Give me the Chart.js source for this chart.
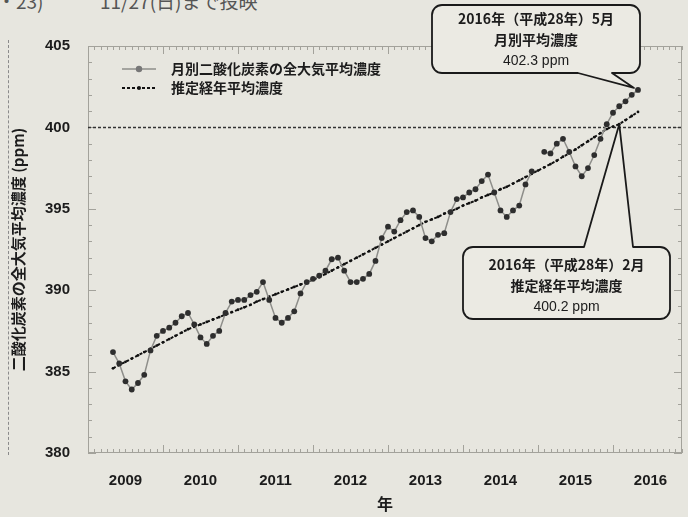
<!DOCTYPE html>
<html lang="ja">
<head>
<meta charset="utf-8">
<title>二酸化炭素の全大気平均濃度</title>
<script src="https://cdn.jsdelivr.net/npm/chart.js@4.4.1/dist/chart.umd.min.js"></script>
<style>
  html, body { margin: 0; padding: 0; background: #e7e6df; }
  body { width: 688px; height: 517px; overflow: hidden; position: relative; font-family: "Noto Sans CJK JP", sans-serif; }
  #wrap { position: absolute; left: 0; top: 0; width: 688px; height: 517px; }
  .note { position: absolute; top: -13px; font-size: 19px; color: #555; white-space: nowrap; }
  .margin-line { position: absolute; left: 8px; top: 40px; height: 415px; border-left: 1px dashed #8a8a8a; }
</style>
</head>
<body>
<div class="note" style="left:-3px">・23)</div>
<div class="note" style="left:100px">11/27(日)まで投映</div>
<div class="margin-line"></div>
<div id="wrap"><canvas id="co2Chart" width="688" height="517"></canvas></div>
<script>
// ========== DATA ========== //
const firstMonth = "2009-05";
const yearLabels = [2009, 2010, 2011, 2012, 2013, 2014, 2015, 2016];

// 月別二酸化炭素の全大気平均濃度 (ppm)  2009-05 … 2016-05, 2015-01 欠測
const monthlyMean = [
  386.2, 385.5, 384.4, 383.9, 384.3, 384.8, 386.3, 387.2,                  // 2009
  387.5, 387.7, 388.0, 388.4, 388.6, 387.9, 387.1, 386.7, 387.2, 387.5, 388.6, 389.3, // 2010
  389.4, 389.4, 389.7, 389.9, 390.5, 389.4, 388.3, 388.0, 388.3, 388.7, 389.8, 390.5, // 2011
  390.7, 390.9, 391.2, 391.9, 392.0, 391.2, 390.5, 390.5, 390.7, 391.0, 391.8, 393.2, // 2012
  393.9, 393.6, 394.3, 394.8, 394.9, 394.5, 393.2, 393.0, 393.4, 393.5, 394.8, 395.6, // 2013
  395.7, 396.0, 396.2, 396.7, 397.1, 396.0, 394.9, 394.5, 394.9, 395.2, 396.5, 397.3, // 2014
  null,  398.5, 398.4, 399.0, 399.3, 398.5, 397.6, 397.0, 397.5, 398.3, 399.3, 400.2, // 2015
  400.9, 401.3, 401.6, 402.0, 402.3                                         // 2016
];

// 推定経年平均濃度 (ppm)  2009-05 … 2016-05
const trendMean = [
  385.2, 385.4, 385.6, 385.8, 386.0, 386.2, 386.4, 386.6,
  386.8, 387.0, 387.2, 387.4, 387.6, 387.75, 387.9, 388.05, 388.2, 388.35, 388.5, 388.65,
  388.8, 388.95, 389.1, 389.3, 389.45, 389.6, 389.75, 389.9, 390.05, 390.2, 390.35, 390.5,
  390.65, 390.8, 391.0, 391.2, 391.4, 391.6, 391.8, 392.0, 392.2, 392.4, 392.6, 392.8,
  393.0, 393.2, 393.4, 393.6, 393.8, 394.0, 394.2, 394.35, 394.5, 394.7, 394.85, 395.0,
  395.2, 395.35, 395.5, 395.7, 395.85, 396.0, 396.2, 396.35, 396.55, 396.75, 396.95, 397.15,
  397.35, 397.55, 397.75, 397.95, 398.2, 398.4, 398.65, 398.9, 399.15, 399.4, 399.65, 399.9,
  400.05, 400.2, 400.45, 400.7, 400.95
];

const refLevel = 400;

const calloutMonthly = { month: "2016-05", value: 402.3, lines: ["2016年（平成28年）5月", "月別平均濃度", "402.3 ppm"] };
const calloutTrend = { month: "2016-02", value: 400.2, lines: ["2016年（平成28年）2月", "推定経年平均濃度", "400.2 ppm"] };

// ========== HELPERS ========== //
function monthToYear(str) {
  const [y, m] = str.split("-").map(Number);
  return y + (m - 1) / 12;
}

const [startY, startM] = firstMonth.split("-").map(Number);
const monthX = monthlyMean.map((_, i) => startY + (startM - 1 + i) / 12);

const monthlyPoints = monthlyMean.map((v, i) => ({ x: monthX[i], y: v }));
const trendPoints = trendMean.map((v, i) => ({ x: monthX[i], y: v }));

const TEXT = "#1c1c1c";
const CJK = '"Noto Sans CJK JP", sans-serif';
const NUM = '"Liberation Sans", Arial, sans-serif';

// ========== PLUGINS ========== //
const framePlugin = {
  id: "frame",
  beforeDatasetsDraw(chart) {
    const { ctx, chartArea: a, scales: { x, y } } = chart;
    ctx.save();
    ctx.strokeStyle = "#a3a29b";
    ctx.lineWidth = 1;
    ctx.strokeRect(a.left + 0.5, a.top + 0.5, a.width - 1, a.height - 1);

    ctx.beginPath();
    for (let k = Math.ceil(x.min * 12); k <= Math.floor(x.max * 12); k++) {
      const px = Math.round(x.getPixelForValue(k / 12)) + 0.5;
      const len = k % 12 === 0 ? 8 : 4;
      ctx.moveTo(px, a.bottom); ctx.lineTo(px, a.bottom - len);
      ctx.moveTo(px, a.top); ctx.lineTo(px, a.top + len);
    }
    for (let v = y.min; v <= y.max; v++) {
      const py = Math.round(y.getPixelForValue(v)) + 0.5;
      const len = v % 5 === 0 ? 8 : 4;
      ctx.moveTo(a.left, py); ctx.lineTo(a.left + len, py);
      ctx.moveTo(a.right, py); ctx.lineTo(a.right - len, py);
    }
    ctx.stroke();

    // 400 ppm line
    const ry = y.getPixelForValue(refLevel);
    ctx.beginPath();
    ctx.setLineDash([3, 2]);
    ctx.strokeStyle = "#333";
    ctx.lineWidth = 1.5;
    ctx.moveTo(a.left, ry);
    ctx.lineTo(a.right, ry);
    ctx.stroke();
    ctx.restore();
  }
};

const legendPlugin = {
  id: "innerLegend",
  afterDatasetsDraw(chart) {
    const { ctx } = chart;
    ctx.save();
    chart.data.datasets.forEach((ds, i) => {
      const yy = 69 + i * 19;
      ctx.beginPath();
      ctx.setLineDash(ds.borderDash || []);
      ctx.strokeStyle = ds.borderColor;
      ctx.lineWidth = ds.borderWidth;
      ctx.moveTo(122, yy);
      ctx.lineTo(156, yy);
      ctx.stroke();
      ctx.setLineDash([]);
      ctx.beginPath();
      ctx.fillStyle = i === 0 ? "#777" : ds.pointBackgroundColor;
      ctx.arc(139, yy, i === 0 ? 3.2 : 2, 0, Math.PI * 2);
      ctx.fill();
      ctx.fillStyle = TEXT;
      ctx.font = "bold 14px " + CJK;
      ctx.textAlign = "left";
      ctx.textBaseline = "middle";
      ctx.fillText(ds.label, 171, yy);
    });
    ctx.restore();
  }
};

function calloutPath(ctx, b, t) {
  const { x, y, w, h, r } = b;
  ctx.beginPath();
  ctx.moveTo(x + r, y);
  if (t.side === "top") { ctx.lineTo(t.a, y); ctx.lineTo(t.tx, t.ty); ctx.lineTo(t.b, y); }
  ctx.arcTo(x + w, y, x + w, y + h, r);
  ctx.arcTo(x + w, y + h, x, y + h, r);
  if (t.side === "bottom") { ctx.lineTo(t.b, y + h); ctx.lineTo(t.tx, t.ty); ctx.lineTo(t.a, y + h); }
  ctx.arcTo(x, y + h, x, y, r);
  ctx.arcTo(x, y, x + w, y, r);
  ctx.closePath();
}

function drawCallout(ctx, box, tail, lines, lineY) {
  ctx.save();
  calloutPath(ctx, box, tail);
  ctx.fillStyle = "#ebeae3";
  ctx.fill();
  ctx.strokeStyle = "#1a1a1a";
  ctx.lineWidth = 1.8;
  ctx.lineJoin = "round";
  ctx.stroke();
  ctx.fillStyle = TEXT;
  ctx.textAlign = "center";
  ctx.textBaseline = "middle";
  const cx = box.x + box.w / 2;
  lines.forEach((s, i) => {
    ctx.font = i < 2 ? "bold 14px " + CJK : "14px " + NUM;
    ctx.fillText(s, cx, lineY[i]);
  });
  ctx.restore();
}

const calloutPlugin = {
  id: "callouts",
  afterDraw(chart) {
    const { ctx, scales: { x, y } } = chart;
    const m = calloutMonthly, t = calloutTrend;
    drawCallout(ctx,
      { x: 432, y: 5, w: 208, h: 68, r: 10 },
      { side: "bottom", a: 578, b: 612,
        tx: x.getPixelForValue(monthToYear(m.month)) - 4,
        ty: y.getPixelForValue(m.value) - 2 },
      m.lines, [19, 40, 61]);
    drawCallout(ctx,
      { x: 463, y: 247, w: 207, h: 72, r: 10 },
      { side: "top", a: 584, b: 633,
        tx: x.getPixelForValue(monthToYear(t.month)),
        ty: y.getPixelForValue(t.value) },
      t.lines, [265, 286, 307]);
  }
};

// ========== CHART ========== //
const ctx = document.getElementById("co2Chart").getContext("2d");

new Chart(ctx, {
  type: "line",
  data: {
    datasets: [
      {
        label: "月別二酸化炭素の全大気平均濃度",
        data: monthlyPoints,
        borderColor: "#8e8e8a",
        borderWidth: 1.5,
        pointRadius: 2.9,
        pointBackgroundColor: "#2e2e2e",
        pointBorderWidth: 0,
        spanGaps: false,
        tension: 0
      },
      {
        label: "推定経年平均濃度",
        data: trendPoints,
        borderColor: "#111",
        borderWidth: 2,
        borderDash: [3, 2],
        pointRadius: 1.4,
        pointBackgroundColor: "#111",
        pointBorderWidth: 0,
        tension: 0
      }
    ]
  },
  options: {
    responsive: false,
    animation: false,
    layout: { padding: { top: 46, right: 6, left: 0, bottom: 0 } },
    plugins: {
      legend: { display: false },
      tooltip: { enabled: false }
    },
    scales: {
      x: {
        type: "linear",
        min: 2009,
        max: 2016.92,
        afterBuildTicks: s => { s.ticks = yearLabels.map(yr => ({ value: yr + 0.5 })); },
        afterFit: s => { s.height = 64; },
        grid: { display: false },
        border: { display: false },
        ticks: {
          callback: v => String(Math.floor(v)),
          color: TEXT,
          font: { family: NUM, size: 15, weight: "bold" },
          padding: 11,
          maxRotation: 0,
          autoSkip: false
        },
        title: {
          display: true,
          text: "年",
          color: TEXT,
          font: { family: CJK, size: 16, weight: "bold" },
          padding: { top: 0, bottom: 3 }
        }
      },
      y: {
        min: 380,
        max: 405,
        afterFit: s => { s.width = 88; },
        grid: { display: false },
        border: { display: false },
        ticks: {
          stepSize: 5,
          color: TEXT,
          font: { family: NUM, size: 15, weight: "bold" },
          padding: 10
        },
        title: {
          display: true,
          text: "二酸化炭素の全大気平均濃度 (ppm)",
          color: TEXT,
          font: { family: CJK, size: 15, weight: "bold" },
          padding: { top: 9, bottom: 0 }
        }
      }
    }
  },
  plugins: [framePlugin, legendPlugin, calloutPlugin]
});
</script>
</body>
</html>
